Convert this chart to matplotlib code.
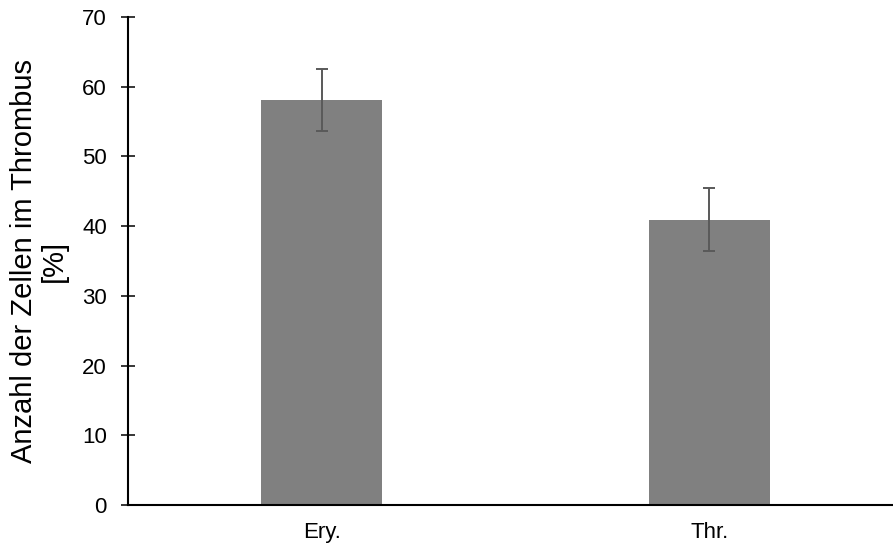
import numpy as np
import matplotlib.pyplot as plt

plt.rcParams['font.family'] = ['Liberation Sans', 'DejaVu Sans']

# cell fractions in the thrombus
categories = ['Ery.', 'Thr.']
values = [58.1, 40.9]
errors = [4.5, 4.5]
yticks = [0, 10, 20, 30, 40, 50, 60, 70]

fig = plt.figure(figsize=(8.93, 5.46), dpi=100)
ax = fig.add_axes([0.1433, 0.0751, 0.8567, 0.8938])

x = np.arange(len(categories))
ax.bar(x, values, width=0.312, color='#808080', zorder=2)
ax.errorbar(x, values, yerr=errors, fmt='none', ecolor='#595959',
            elinewidth=1.4, capsize=4.4, capthick=1.4, zorder=3)

ax.set_xlim(-0.5, 1.4735)
ax.set_ylim(0, 70)
ax.set_yticks(yticks)
ax.set_xticks(x)
ax.set_xticklabels(categories)

for side in ['top', 'right']:
    ax.spines[side].set_visible(False)
for side in ['left', 'bottom']:
    ax.spines[side].set_linewidth(1.5)
    ax.spines[side].set_color('black')

ax.tick_params(axis='y', direction='inout', length=10.5, width=1.1,
               labelsize=16, pad=10)
ax.tick_params(axis='x', length=0, labelsize=16, pad=12)

ax.set_ylabel('Anzahl der Zellen im Thrombus\n[%]', fontsize=21,
              linespacing=1.05)
ax.yaxis.set_label_coords(-0.079, 0.5)

fig.savefig('out.png', dpi=100)
